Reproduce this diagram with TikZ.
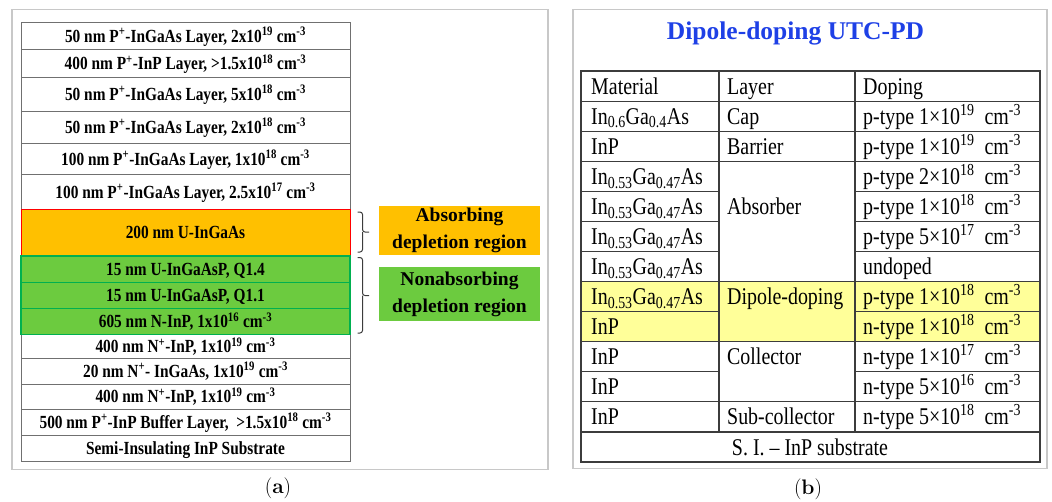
\documentclass[tikz,border=0pt]{standalone}
\usepackage{fontspec}
\newfontfamily\tnr{Liberation Serif}
\newfontfamily\tnrc[FakeStretch=0.83]{Liberation Serif}
\definecolor{frameg}{HTML}{C8C8C8}
\definecolor{tgray}{HTML}{707070}
\definecolor{rline}{HTML}{3C3C3C}
\definecolor{orng}{HTML}{FFC000}
\definecolor{grn}{HTML}{6CCB3F}
\definecolor{grnb}{HTML}{00B050}
\definecolor{ylw}{HTML}{FFFF99}
\definecolor{ttl}{HTML}{1E40E6}
\newcommand\myup[1]{\textsuperscript{#1}}
\newcommand\mydn[1]{\textsubscript{#1}}
\newcommand\igas{In\mydn{0.53}Ga\mydn{0.47}As}
\tikzset{
  frm/.style={draw=frameg, line width=1.5pt},
  lrow/.style={draw=tgray, line width=0.9pt, minimum width=329pt, inner sep=0pt,
    text height=14.2pt, text depth=2pt, font=\tnrc\bfseries\fontsize{18.5}{21}\selectfont},
  orangerow/.style={lrow, fill=orng, draw=red},
  greenrow/.style={lrow, fill=grn, draw=grnb, line width=1.2pt},
  labbox/.style={align=center, minimum width=161pt, inner sep=0pt,
    font=\tnr\bfseries\fontsize{19.5}{27}\selectfont},
  rc/.style={anchor=west, inner sep=0pt, text height=19pt, text depth=3pt,
    font=\tnrc\fontsize{24}{28}\selectfont},
  rl/.style={draw=rline, line width=1.1pt},
  bracestyle/.style={draw=rline, line width=1pt, rounded corners=2.5pt},
  captxt/.style={font=\fontsize{21}{24}\selectfont, inner sep=0pt}
}
\begin{document}
\begin{tikzpicture}[x=1pt,y=-1pt]
\useasboundingbox (0,0) rectangle (1052,501);
% ---------- panel (a) ----------
\draw[frm] (12,9.5) rectangle (548,469.5);
\node[lrow, minimum height=26.6pt] (a1) at (185.5,36) {50 nm P\myup{+}-InGaAs Layer, 2x10\myup{19} cm\myup{-3}};
\node[lrow, minimum height=28pt] (a2) at (185.5,63.3) {400 nm P\myup{+}-InP Layer, >1.5x10\myup{18} cm\myup{-3}};
\node[lrow, minimum height=33.7pt] (a3) at (185.5,94.15) {50 nm P\myup{+}-InGaAs Layer, 5x10\myup{18} cm\myup{-3}};
\node[lrow, minimum height=32.3pt] (a4) at (185.5,127.15) {50 nm P\myup{+}-InGaAs Layer, 2x10\myup{18} cm\myup{-3}};
\node[lrow, minimum height=31.4pt] (a5) at (185.5,159) {100 nm P\myup{+}-InGaAs Layer, 1x10\myup{18} cm\myup{-3}};
\node[lrow, minimum height=34.6pt] (a6) at (185.5,192) {100 nm P\myup{+}-InGaAs Layer, 2.5x10\myup{17} cm\myup{-3}};
\node[lrow, minimum height=24pt] (a11) at (185.5,346.3) {400 nm N\myup{+}-InP, 1x10\myup{19} cm\myup{-3}};
\node[lrow, minimum height=25.7pt] (a12) at (185.5,371.15) {20 nm N\myup{+}- InGaAs, 1x10\myup{19} cm\myup{-3}};
\node[lrow, minimum height=25.3pt] (a13) at (185.5,396.65) {400 nm N\myup{+}-InP, 1x10\myup{19} cm\myup{-3}};
\node[lrow, minimum height=25.7pt] (a14) at (185.5,422.15) {500 nm P\myup{+}-InP Buffer Layer,\ \ >1.5x10\myup{18} cm\myup{-3}};
\node[lrow, minimum height=26pt] (a15) at (185.5,448) {Semi-Insulating InP Substrate};
\node[orangerow, minimum height=46.7pt] (a7) at (185.5,232.65) {200 nm U-InGaAs};
\node[greenrow, minimum height=26.7pt] (a8) at (185.5,269.35) {15 nm U-InGaAsP, Q1.4};
\node[greenrow, minimum height=25.6pt] (a9) at (185.5,295.5) {15 nm U-InGaAsP, Q1.1};
\node[greenrow, minimum height=26pt] (a10) at (185.5,321.3) {605 nm N-InP, 1x10\myup{16} cm\myup{-3}};
% braces
\coordinate (b1t) at (357.5,212); \coordinate (b1m) at (362.5,232); \coordinate (b1b) at (357.5,252);
\coordinate (b2t) at (357.5,257.5); \coordinate (b2m) at (362.5,295.5); \coordinate (b2b) at (357.5,333);
\draw[bracestyle] (b1t) -| (b1m) -- ++(6.5,0);
\draw[bracestyle] (b1b) -| (b1m);
\draw[bracestyle] (b2t) -| (b2m) -- ++(6.5,0);
\draw[bracestyle] (b2b) -| (b2m);
% labels
\node[labbox, fill=orng, minimum height=49pt] (absl) at (459.5,230.5) {Absorbing\\depletion region};
\node[labbox, fill=grn, minimum height=54pt] (nabl) at (459.5,294) {Nonabsorbing\\depletion region};
\node[captxt] (capa) at (278,488) {(\textbf{a})};
% ---------- panel (b) ----------
\draw[frm] (573,9.5) rectangle (1047,468.5);
\node[font=\tnr\bfseries\fontsize{25.5}{30}\selectfont, text=ttl, inner sep=0pt] (title) at (795.5,33) {Dipole-doping UTC-PD};
\fill[ylw] (581,281.56) rectangle (1040,341.72);
% lines
\draw[rl] (581,71) rectangle (1040,462);
\draw[rl] (719,71) -- (719,431.96);
\draw[rl] (855,71) -- (855,431.96);
\foreach \yy in {101.08,131.16,161.24,281.56,341.72,401.88,431.96}
  \draw[rl] (581,\yy) -- (1040,\yy);
\foreach \yy in {191.32,221.4,251.48,311.64,371.8}
  {\draw[rl] (581,\yy) -- (719,\yy); \draw[rl] (855,\yy) -- (1040,\yy);}
% header
\node[rc] (h1) at (591,86.04) {Material};
\node[rc] (h2) at (727,86.04) {Layer};
\node[rc] (h3) at (863,86.04) {Doping};
% material column
\node[rc] (m1) at (591,116.1) {In\mydn{0.6}Ga\mydn{0.4}As};
\node[rc] (m2) at (591,146.2) {InP};
\node[rc] (m3) at (591,176.3) {\igas};
\node[rc] (m4) at (591,206.4) {\igas};
\node[rc] (m5) at (591,236.4) {\igas};
\node[rc] (m6) at (591,266.5) {\igas};
\node[rc] (m7) at (591,296.6) {\igas};
\node[rc] (m8) at (591,326.7) {InP};
\node[rc] (m9) at (591,356.8) {InP};
\node[rc] (m10) at (591,386.8) {InP};
\node[rc] (m11) at (591,416.9) {InP};
% layer column
\node[rc] (l1) at (727,116.1) {Cap};
\node[rc] (l2) at (727,146.2) {Barrier};
\node[rc] (l3) at (727,206.4) {Absorber};
\node[rc] (l4) at (727,296.6) {Dipole-doping};
\node[rc] (l5) at (727,356.8) {Collector};
\node[rc] (l6) at (727,416.9) {Sub-collector};
% doping column
\node[rc] (d1) at (863,116.1) {p-type 1×10\myup{19}\ \ cm\myup{-3}};
\node[rc] (d2) at (863,146.2) {p-type 1×10\myup{19}\ \ cm\myup{-3}};
\node[rc] (d3) at (863,176.3) {p-type 2×10\myup{18}\ \ cm\myup{-3}};
\node[rc] (d4) at (863,206.4) {p-type 1×10\myup{18}\ \ cm\myup{-3}};
\node[rc] (d5) at (863,236.4) {p-type 5×10\myup{17}\ \ cm\myup{-3}};
\node[rc] (d6) at (863,266.5) {undoped};
\node[rc] (d7) at (863,296.6) {p-type 1×10\myup{18}\ \ cm\myup{-3}};
\node[rc] (d8) at (863,326.7) {n-type 1×10\myup{18}\ \ cm\myup{-3}};
\node[rc] (d9) at (863,356.8) {n-type 1×10\myup{17}\ \ cm\myup{-3}};
\node[rc] (d10) at (863,386.8) {n-type 5×10\myup{16}\ \ cm\myup{-3}};
\node[rc] (d11) at (863,416.9) {n-type 5×10\myup{18}\ \ cm\myup{-3}};
\node[rc, anchor=center] (sub) at (810,447) {S. I. – InP substrate};
\node[captxt] (capb) at (808,489) {(\textbf{b})};
\end{tikzpicture}
\end{document}
